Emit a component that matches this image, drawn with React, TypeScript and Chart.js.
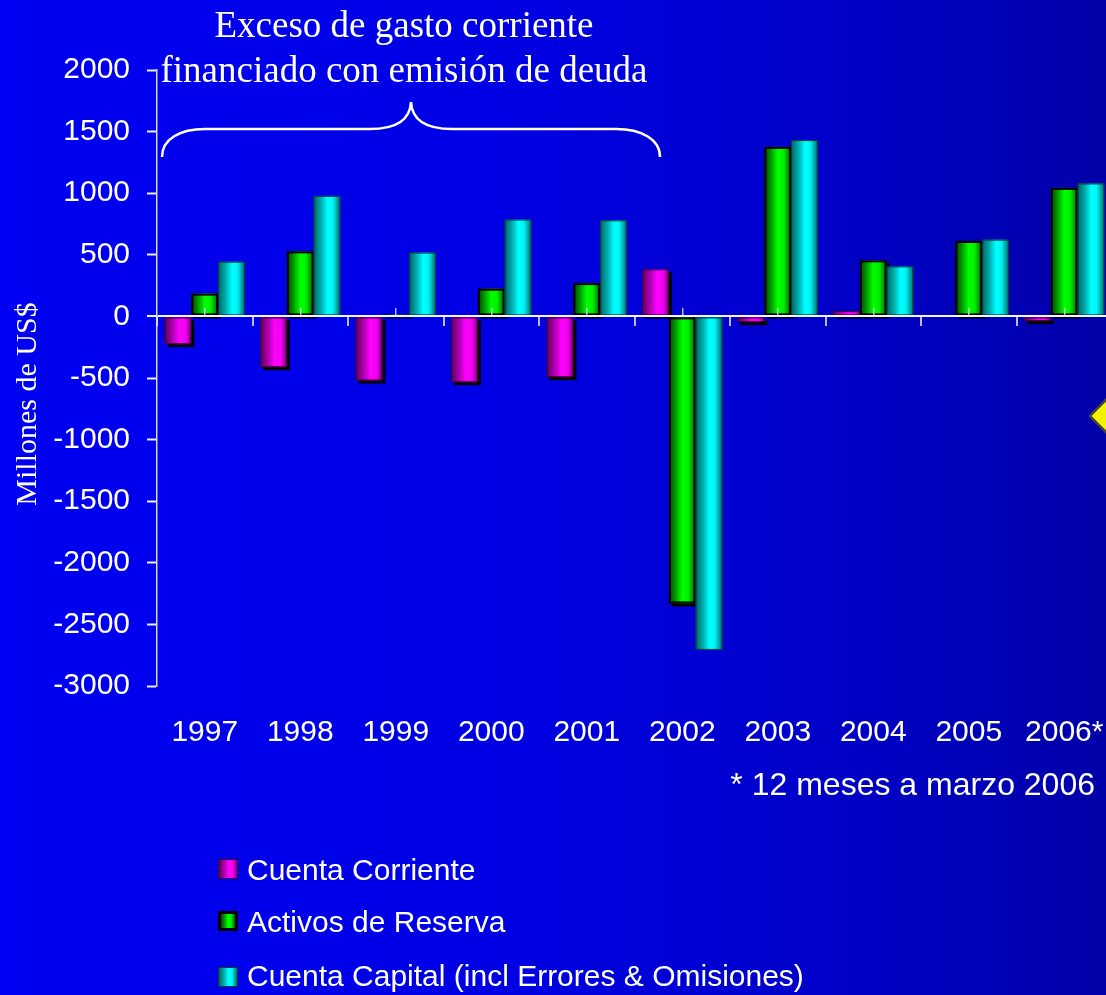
import React, { useEffect, useRef } from 'react';
import { Chart, registerables } from 'chart.js';

Chart.register(...registerables);

// ---------------- data ----------------
const categories = ['1997', '1998', '1999', '2000', '2001', '2002', '2003', '2004', '2005', '2006*'];
const cuentaCorriente = [-225, -412, -520, -534, -493, 382, -46, 43, 0, -38];
const activosReserva = [185, 528, 15, 225, 270, -2330, 1376, 455, 612, 1043];
const cuentaCapital = [444, 978, 518, 786, 780, -2707, 1431, 406, 623, 1079];
const seriesNames = ['Cuenta Corriente', 'Activos de Reserva', 'Cuenta Capital (incl Errores & Omisiones)'];
const yMin = -3000;
const yMax = 2000;
const yStep = 500;
const annotationLines = ['Exceso de gasto corriente', 'financiado con emisión de deuda'];
const yTitle = 'Millones de US$';
const footnote = '* 12 meses a marzo 2006';

// ---------------- styles ----------------
type BarStyle = { stops: [number, string][]; border: string; bw: number; shadow: boolean };
const barStyles: BarStyle[] = [
  {
    stops: [[0, '#5a005a'], [0.3, '#b000b0'], [0.55, '#ff00ff'], [0.78, '#f000f0'], [1, '#7a007a']],
    border: '#3a003a', bw: 1, shadow: true,
  },
  {
    stops: [[0, '#004400'], [0.25, '#009a00'], [0.5, '#00ff00'], [0.72, '#00f000'], [1, '#005a00']],
    border: '#000000', bw: 2, shadow: true,
  },
  {
    stops: [[0, '#006464'], [0.3, '#00b4b4'], [0.52, '#00ffff'], [0.72, '#00f4f4'], [1, '#006a6a']],
    border: '#003c3c', bw: 1, shadow: false,
  },
];
const solidColors = ['#ff00ff', '#00ff00', '#00ffff'];
const legendBorders = ['1px solid #300030', '3px solid #000000', '1px solid #003a3a'];

const cssGradient = (s: BarStyle) =>
  `linear-gradient(to right, ${s.stops.map(([o, c]) => `${c} ${o * 100}%`).join(', ')})`;

const cylinderBars = {
  id: 'cylinderBars',
  beforeDatasetsDraw(chart: any) {
    const ctx = chart.ctx as CanvasRenderingContext2D;
    ctx.save();
    chart.data.datasets.forEach((_ds: any, di: number) => {
      const meta = chart.getDatasetMeta(di);
      if (meta.hidden) return;
      const st = barStyles[di];
      meta.data.forEach((el: any) => {
        const { x, y, base, width } = el.getProps(['x', 'y', 'base', 'width'], true);
        const left = x - width / 2;
        const top = Math.min(y, base);
        const h = Math.abs(base - y);
        if (h < 0.5) return;
        if (st.shadow) {
          ctx.fillStyle = '#000000';
          ctx.fillRect(left + 3, top + 3, width, h);
        }
        const g = ctx.createLinearGradient(left, 0, left + width, 0);
        st.stops.forEach(([o, c]) => g.addColorStop(o, c));
        ctx.fillStyle = g;
        ctx.fillRect(left, top, width, h);
        ctx.lineWidth = st.bw;
        ctx.strokeStyle = st.border;
        ctx.strokeRect(left + st.bw / 2, top + st.bw / 2, width - st.bw, Math.max(h - st.bw, 0.5));
      });
    });
    ctx.restore();
    return false;
  },
};

const SANS = "'Liberation Sans', Arial, sans-serif";
const SERIF = "'Liberation Serif', 'Times New Roman', serif";

export default function App() {
  const canvasRef = useRef<HTMLCanvasElement | null>(null);

  useEffect(() => {
    document.body.style.margin = '0';
    const canvas = canvasRef.current;
    if (!canvas) return;
    const chart = new Chart(canvas, {
      type: 'bar',
      data: {
        labels: categories,
        datasets: [
          { label: seriesNames[0], data: cuentaCorriente, backgroundColor: solidColors[0] },
          { label: seriesNames[1], data: activosReserva, backgroundColor: solidColors[1] },
          { label: seriesNames[2], data: cuentaCapital, backgroundColor: solidColors[2] },
        ],
      },
      options: {
        animation: false,
        responsive: false,
        devicePixelRatio: 1,
        layout: { padding: { top: 70, left: 0, right: 8, bottom: 0 } },
        datasets: { bar: { categoryPercentage: 0.84, barPercentage: 1 } },
        plugins: { legend: { display: false }, tooltip: { enabled: false }, title: { display: false } },
        scales: {
          x: {
            type: 'category',
            position: 'bottom',
            offset: true,
            grid: { display: false, drawTicks: false },
            border: { display: false },
            ticks: {
              color: '#ffffff',
              font: { family: SANS, size: 30 },
              padding: 29,
              maxRotation: 0,
              autoSkip: false,
            },
            afterFit: (s: any) => {
              s.height = 309;
              s.paddingLeft = 0;
              s.paddingRight = 0;
            },
          },
          x2: {
            type: 'category',
            axis: 'x',
            position: { y: 0 },
            offset: true,
            grid: {
              offset: true,
              drawOnChartArea: false,
              drawTicks: true,
              tickLength: 10,
              color: 'rgba(205,205,255,0.9)',
              lineWidth: 2,
            },
            ticks: { display: false },
            border: { display: false },
          },
          x3: {
            type: 'category',
            axis: 'x',
            position: { y: 0 },
            offset: true,
            grid: {
              offset: false,
              drawOnChartArea: false,
              drawTicks: true,
              tickLength: -8,
              color: 'rgba(225,225,255,0.8)',
              lineWidth: 1.5,
              z: 1,
            },
            ticks: { display: false },
            border: { display: false },
          },
          y: {
            type: 'linear',
            position: 'left',
            min: yMin,
            max: yMax,
            ticks: {
              stepSize: yStep,
              color: '#ffffff',
              font: { family: SANS, size: 30 },
              padding: 17,
              callback: (v: any) => String(v),
            },
            grid: {
              drawOnChartArea: true,
              drawTicks: true,
              tickLength: 10,
              tickWidth: 2,
              tickColor: '#f0f0ff',
              color: (c: any) => (c.tick && c.tick.value === 0 ? '#f4f4ff' : 'rgba(0,0,0,0)'),
              lineWidth: (c: any) => (c.tick && c.tick.value === 0 ? 2 : 1),
              z: 1,
            },
            border: { display: true, color: 'rgba(235,235,255,0.9)', width: 1.5, z: 1 },
            afterFit: (s: any) => { s.width = 157; },
          },
        },
      },
      plugins: [cylinderBars],
    } as any);
    return () => chart.destroy();
  }, []);

  const legendTops = [859, 911, 967];
  const legendBaselines = [880, 932, 986];

  return (
    <div
      style={{
        position: 'relative',
        width: 1106,
        height: 995,
        overflow: 'hidden',
        background: 'linear-gradient(to right, #0000f2 0%, #0000e4 45%, #0000c8 75%, #0000a8 100%)',
        color: '#ffffff',
      }}
    >
      <canvas
        ref={canvasRef}
        width={1120}
        height={995}
        style={{ position: 'absolute', left: 0, top: 0, width: 1120, height: 995, display: 'block' }}
      />

      {/* annotation */}
      <div
        style={{
          position: 'absolute',
          left: 104,
          top: 2,
          width: 600,
          textAlign: 'center',
          fontFamily: SERIF,
          fontSize: 37,
          lineHeight: '45px',
          whiteSpace: 'nowrap',
        }}
      >
        {annotationLines.map((l) => (
          <div key={l}>{l}</div>
        ))}
      </div>
      <svg
        width={1106}
        height={995}
        style={{ position: 'absolute', left: 0, top: 0, pointerEvents: 'none' }}
      >
        <path
          d="M162,157 C162,139 180,129 205,129 L370,129 C394,129 410,121 411,102 C412,121 428,129 452,129 L616,129 C641,129 660,139 660,157"
          fill="none"
          stroke="#ffffff"
          strokeWidth={2.5}
        />
      </svg>

      {/* y title */}
      <div
        style={{
          position: 'absolute',
          left: 26,
          top: 404,
          transform: 'translate(-50%, -50%) rotate(-90deg)',
          fontFamily: SERIF,
          fontSize: 30,
          whiteSpace: 'nowrap',
          lineHeight: '34px',
        }}
      >
        {yTitle}
      </div>

      {/* footnote */}
      <div
        style={{
          position: 'absolute',
          right: 11,
          top: 766,
          fontFamily: SANS,
          fontSize: 32,
          lineHeight: '36px',
          whiteSpace: 'nowrap',
        }}
      >
        {footnote}
      </div>

      {/* legend */}
      {seriesNames.map((name, i) => (
        <React.Fragment key={name}>
          <div
            style={{
              position: 'absolute',
              left: 218,
              top: legendTops[i],
              width: 20,
              height: 20,
              boxSizing: 'border-box',
              background: cssGradient(barStyles[i]),
              border: legendBorders[i],
            }}
          />
          <div
            style={{
              position: 'absolute',
              left: 247,
              top: legendBaselines[i] - 28.5,
              fontFamily: SANS,
              fontSize: 30,
              lineHeight: '36px',
              whiteSpace: 'nowrap',
            }}
          >
            {name}
          </div>
        </React.Fragment>
      ))}

      {/* yellow marker at right edge */}
      <div
        style={{
          position: 'absolute',
          left: 1107 - 13,
          top: 416 - 13,
          width: 26,
          height: 26,
          boxSizing: 'border-box',
          background: '#f2f200',
          border: '2.5px solid #3a3a3a',
          transform: 'rotate(45deg)',
        }}
      />
    </div>
  );
}
